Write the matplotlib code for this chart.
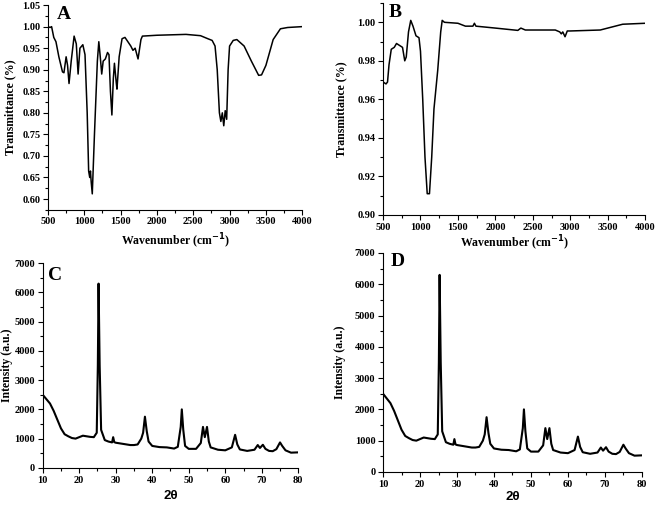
import matplotlib
matplotlib.use("Agg")
from matplotlib import pyplot as plt
from matplotlib.ticker import MultipleLocator

# FTIR spectrum A
wn_a = [500, 530, 550, 580, 610, 650, 700, 720, 750, 770, 790, 820, 860, 890, 915,
        940, 980, 1010, 1040, 1060, 1075, 1085, 1095, 1110, 1140, 1180, 1200, 1220,
        1240, 1260, 1290, 1320, 1340, 1360, 1380, 1400, 1415, 1440, 1450, 1480,
        1520, 1560, 1600, 1640, 1670, 1700, 1740, 1780, 1800, 1900, 2000, 2200,
        2400, 2600, 2700, 2760, 2800, 2830, 2860, 2880, 2900, 2920, 2940, 2960,
        2980, 3000, 3050, 3100, 3200, 3300, 3400, 3440, 3500, 3600, 3700, 3800, 4000]
tr_a = [1.00, 0.998, 1.00, 0.975, 0.965, 0.93, 0.895, 0.893, 0.93, 0.91, 0.868,
        0.92, 0.978, 0.96, 0.89, 0.95, 0.958, 0.935, 0.80, 0.665, 0.650, 0.665,
        0.64, 0.612, 0.75, 0.92, 0.965, 0.93, 0.89, 0.92, 0.925, 0.940, 0.935,
        0.85, 0.795, 0.88, 0.915, 0.87, 0.855, 0.93, 0.972, 0.975, 0.965, 0.955,
        0.945, 0.95, 0.925, 0.97, 0.978, 0.979, 0.980, 0.981, 0.982, 0.979, 0.972,
        0.968, 0.955, 0.90, 0.80, 0.78, 0.80, 0.77, 0.805, 0.785, 0.90, 0.955,
        0.968, 0.970, 0.955, 0.92, 0.887, 0.888, 0.91, 0.97, 0.995, 0.998, 1.00]

# FTIR spectrum B
wn_b = [500, 540, 560, 580, 610, 650, 680, 720, 760, 790, 810, 840, 870, 900, 940,
        980, 1000, 1030, 1060, 1090, 1120, 1150, 1180, 1230, 1270, 1290, 1320,
        1500, 1600, 1700, 1720, 1740, 2000, 2300, 2340, 2400, 2800, 2860, 2880,
        2900, 2930, 2960, 3000, 3400, 3500, 3700, 4000]
tr_b = [0.969, 0.968, 0.969, 0.978, 0.986, 0.987, 0.989, 0.988, 0.987, 0.980,
        0.982, 0.995, 1.001, 0.998, 0.993, 0.992, 0.985, 0.960, 0.930, 0.911,
        0.911, 0.930, 0.955, 0.975, 0.995, 1.001, 1.000, 0.9995, 0.998, 0.998,
        0.9995, 0.998, 0.997, 0.9958, 0.997, 0.996, 0.996, 0.995, 0.994, 0.995,
        0.9925, 0.9955, 0.9955, 0.996, 0.997, 0.999, 0.9995]

# XRD patterns C and D
two_theta = [10, 11, 12, 13, 14, 15, 16, 17, 18, 19, 20, 21, 22, 23, 24, 24.8,
             25.1, 25.3, 25.6, 26, 27, 28, 29, 29.3, 29.6, 30, 32, 34, 35, 36, 37,
             37.5, 38, 38.5, 39, 40, 42, 44, 46, 47, 47.8, 48.1, 48.5, 49, 50, 52,
             53.3, 53.9, 54.4, 55, 55.5, 56, 58, 60, 61.8, 62.7, 63.3, 64, 66, 68,
             68.9, 69.5, 70.3, 71, 72, 73, 74, 75, 75.6, 76.5, 78, 80]
intensity_c = [2500, 2350, 2200, 1950, 1650, 1350, 1150, 1080, 1020, 1000, 1050,
               1100, 1080, 1060, 1050, 1200, 3500, 6300, 3500, 1300, 950, 900, 870,
               1050, 880, 860, 820, 780, 780, 800, 1000, 1200, 1750, 1250, 900, 750,
               710, 700, 660, 720, 1400, 2000, 1300, 750, 650, 650, 850, 1400, 1050,
               1400, 900, 700, 620, 600, 700, 1130, 800, 630, 580, 620, 780, 680,
               790, 650, 580, 570, 640, 870, 750, 600, 520, 530]
intensity_d = intensity_c

plt.rcParams['font.family'] = ['Liberation Serif', 'DejaVu Serif']
plt.rcParams['font.weight'] = 'bold'

fig = plt.figure(figsize=(6.57, 5.08), dpi=100)


def style(ax):
    for s in ('top', 'right'):
        ax.spines[s].set_visible(False)
    ax.tick_params(which='both', direction='out', labelsize=7.5, width=0.8, pad=2)
    ax.tick_params(which='major', length=3.5)
    ax.tick_params(which='minor', length=2)
    for lab in ax.get_xticklabels() + ax.get_yticklabels():
        lab.set_fontweight('bold')


ax_a = fig.add_axes([0.073, 0.587, 0.387, 0.403])
ax_a.plot(wn_a, tr_a, color='black', lw=1.1)
ax_a.set_xlim(500, 4000)
ax_a.set_ylim(0.575, 1.05)
ax_a.xaxis.set_major_locator(MultipleLocator(500))
ax_a.xaxis.set_minor_locator(MultipleLocator(250))
ax_a.yaxis.set_major_locator(MultipleLocator(0.05))
ax_a.yaxis.set_minor_locator(MultipleLocator(0.025))
ax_a.yaxis.set_major_formatter(lambda v, p: f"{v:.2f}")
ax_a.set_xlabel('Wavenumber (cm$^{\\mathbf{-1}}$)', fontsize=8.5, fontweight='bold', labelpad=4)
ax_a.set_ylabel('Transmittance (%)', fontsize=8.5, fontweight='bold', labelpad=4)
ax_a.text(0.035, 0.995, 'A', transform=ax_a.transAxes, fontsize=14, fontweight='bold', va='top')
style(ax_a)

ax_b = fig.add_axes([0.583, 0.577, 0.399, 0.417])
ax_b.plot(wn_b, tr_b, color='black', lw=1.1)
ax_b.set_xlim(500, 4000)
ax_b.set_ylim(0.90, 1.01)
ax_b.xaxis.set_major_locator(MultipleLocator(500))
ax_b.xaxis.set_minor_locator(MultipleLocator(250))
ax_b.yaxis.set_major_locator(MultipleLocator(0.02))
ax_b.yaxis.set_minor_locator(MultipleLocator(0.01))
ax_b.yaxis.set_major_formatter(lambda v, p: f"{v:.2f}")
ax_b.set_xlabel('Wavenumber (cm$^{\\mathbf{-1}}$)', fontsize=8.5, fontweight='bold', labelpad=2)
ax_b.set_ylabel('Transmittance (%)', fontsize=8.5, fontweight='bold', labelpad=7)
ax_b.text(0.02, 0.995, 'B', transform=ax_b.transAxes, fontsize=14, fontweight='bold', va='top')
style(ax_b)

ax_c = fig.add_axes([0.065, 0.079, 0.389, 0.403])
ax_c.plot(two_theta, intensity_c, color='black', lw=1.5)
ax_c.set_xlim(10, 80)
ax_c.set_ylim(0, 7000)
ax_c.xaxis.set_major_locator(MultipleLocator(10))
ax_c.xaxis.set_minor_locator(MultipleLocator(5))
ax_c.yaxis.set_major_locator(MultipleLocator(1000))
ax_c.yaxis.set_minor_locator(MultipleLocator(500))
ax_c.set_xlabel('2θ', fontsize=9.5, fontweight='bold', labelpad=4,
                family=['Liberation Sans', 'DejaVu Sans'])
ax_c.set_ylabel('Intensity (a.u.)', fontsize=8.5, fontweight='bold', labelpad=1)
ax_c.text(0.02, 0.98, 'C', transform=ax_c.transAxes, fontsize=14, fontweight='bold', va='top')
style(ax_c)

ax_d = fig.add_axes([0.583, 0.071, 0.394, 0.431])
ax_d.plot(two_theta, intensity_d, color='black', lw=1.5)
ax_d.set_xlim(10, 80)
ax_d.set_ylim(0, 7000)
ax_d.xaxis.set_major_locator(MultipleLocator(10))
ax_d.xaxis.set_minor_locator(MultipleLocator(5))
ax_d.yaxis.set_major_locator(MultipleLocator(1000))
ax_d.yaxis.set_minor_locator(MultipleLocator(500))
ax_d.set_xlabel('2θ', fontsize=9.5, fontweight='bold', labelpad=2,
                family=['Liberation Sans', 'DejaVu Sans'])
ax_d.set_ylabel('Intensity (a.u.)', fontsize=8.5, fontweight='bold', labelpad=6)
ax_d.text(0.03, 1.0, 'D', transform=ax_d.transAxes, fontsize=14, fontweight='bold', va='top')
style(ax_d)

fig.savefig('out.png', dpi=100)
